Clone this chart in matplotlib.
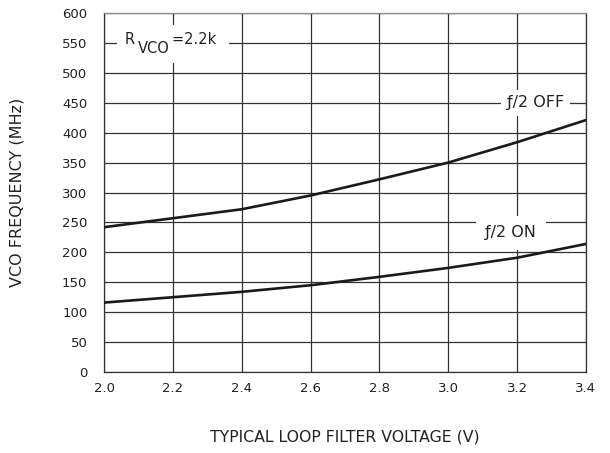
import matplotlib
matplotlib.use("Agg")
import matplotlib.pyplot as plt
from matplotlib.offsetbox import TextArea, HPacker, VPacker, DrawingArea, AnnotationBbox

voltage = [2.0, 2.2, 2.4, 2.6, 2.8, 3.0, 3.2, 3.4]
freq_off = [242, 257, 272, 295, 322, 350, 384, 421]
freq_on = [116, 125, 134, 145, 159, 174, 191, 214]
xticks = [2.0, 2.2, 2.4, 2.6, 2.8, 3.0, 3.2, 3.4]
yticks = list(range(0, 601, 50))

plt.rcParams['font.family'] = ['DejaVu Sans']
TXT = '#222222'

fig = plt.figure(figsize=(6.1, 4.53), dpi=100)
ax = fig.add_axes([0.1705, 0.1788, 0.790, 0.7925])
ax.set_xlim(2.0, 3.4)
ax.set_ylim(0, 600)
ax.set_xticks(xticks)
ax.set_xticklabels([f"{v:.1f}" for v in xticks], fontsize=9.5)
ax.set_yticks(yticks)
ax.set_yticklabels([str(v) for v in yticks], fontsize=9.5)
ax.tick_params(axis='y', length=0, pad=12, colors=TXT)
ax.tick_params(axis='x', length=0, pad=7, colors=TXT)
ax.grid(True, color='#333333', linewidth=0.9)
for s in ax.spines.values():
    s.set_color('#333333')
    s.set_linewidth(0.9)
ax.spines['top'].set_color('#888888')

ax.plot(voltage, freq_off, color='#1a1a1a', linewidth=1.9, zorder=3)
ax.plot(voltage, freq_on, color='#1a1a1a', linewidth=1.9, zorder=3)

# R_VCO label as one packed box with a white background
FS = 10.5
tp = dict(fontsize=FS, color=TXT)
r_part = TextArea('R', textprops=tp)
vco_part = VPacker(children=[DrawingArea(1, 6), TextArea('VCO', textprops=tp)], pad=0, sep=0, align='left')
eq_part = TextArea('=2.2k ', textprops=tp)
packed = HPacker(children=[r_part, vco_part, eq_part], align='top', pad=5, sep=1.8)
ab = AnnotationBbox(packed, (2.041, 548), xycoords='data', box_alignment=(0, 0.5),
                    frameon=True, pad=0.05,
                    bboxprops=dict(facecolor='white', edgecolor='none'), zorder=4)
ax.add_artist(ab)

ax.text(3.253, 450, 'ƒ/2 OFF', fontsize=11.5, ha='center', va='center', color=TXT,
        bbox=dict(facecolor='white', edgecolor='none', boxstyle='square,pad=0.35'), zorder=4)
ax.text(3.182, 233, 'ƒ/2 ON', fontsize=11.5, ha='center', va='center', color=TXT,
        bbox=dict(facecolor='white', edgecolor='none', boxstyle='square,pad=0.6'), zorder=4)

ax.set_xlabel('TYPICAL LOOP FILTER VOLTAGE (V)', fontsize=11.3, color=TXT)
ax.set_ylabel('VCO FREQUENCY (MHz)', fontsize=11.5, color=TXT)
ax.xaxis.set_label_coords(0.5, (372 - 437) / 359)
ax.xaxis.label.set_va('center')
ax.yaxis.set_label_coords((17 - 104) / 482, 0.5)
ax.yaxis.label.set_va('center')

fig.savefig('out.png', dpi=100)
